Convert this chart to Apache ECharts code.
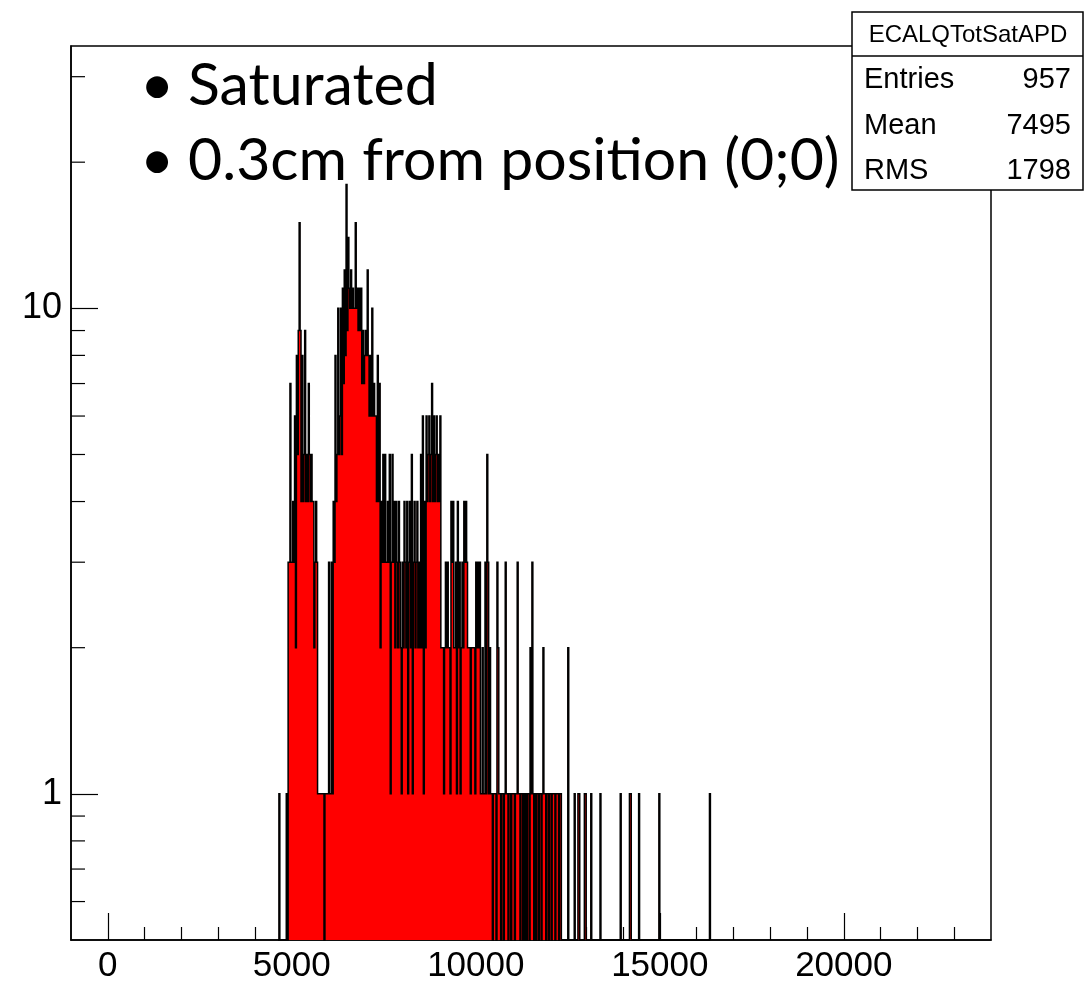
<!DOCTYPE html>
<html><head><meta charset="utf-8">
<script src="https://cdn.jsdelivr.net/npm/echarts@6/dist/echarts.min.js"></script>
<style>html,body{margin:0;padding:0;background:#fff}#c{width:1092px;height:984px}</style>
</head><body><div id="c"></div>
<script>
// ---- histogram definition (ROOT style, 25-unit bins) ----
const histXMin = -1000, histXMax = 24000, binWidth = 25;
const firstBinLow = 4625;
// bin contents, consecutive bins starting at firstBinLow
const counts4625 = [0,1,0,0,0,0,0,0,0,1,0];
const counts4900 = [3,3,7,3,3,4,3,6,2,8,5,9,15,9,4,8,4,5,9,4,5,4,7,5,4,5,4,4,2,3,4,3];
const counts5700 = [1,1,1,1,1,1,1,0,1,1,1,1];
const counts6000 = [3,1,1,3,1,4,3,8,4,5,10,5];
const counts6300 = [6,10,5,11,7,12,8,18,9,14,11,10,12,10,11,10];
const counts6700 = [10,15,10,11,9,11,9,11,7,9,7,8,9,8,12,8];
const counts7100 = [6,8,6,10,6,7,6,6,4,8,4,7];
const counts7400 = [2,4,3,5,3,5,3,3,4,3,5,1,3,5,3,4,2,4,3,2,4,3,2,1];
const counts8000 = [3,2,4,3,2,4,1,3,4,2,5,1,3,4,2,3,4,2,3,2,5,2,6,1];
const counts8600 = [4,2,6,4,5,6,4,5,7,4,6,4,5,6,4,5,4,6,2,2];
const counts9100 = [2,1,2,3,2,3,2,2,1,4,3,4,2,2,3,1,4,2,3,1,2,3,2,4];
const counts9700 = [3,4,3,2,2,2,1,2,2,2,2,1,3,2,3,2,3,1,1,2,1,1,3,1];
const counts10300 = [5,3,1,2,1,1,0,1,1,1,0,3,2,1,1,0,1,1,0,1,3,1,1,0,1,1,0,1];
const counts11000 = [1,1,0,1,1,3,1,1,0,1,1,0,1,0,1,0,1,1,0,2,1,3,1,0,1,0,1,1,0,1,1,0,1,2,1,1,0,1,1,0,1,1,0,1,1,1,0,1];
const counts12200 = [1,1,0,1,1,0];
// isolated bins in the tail: [bin low edge, content]
const tailBins = [[12500,2],[12675,1],[12775,1],[12800,1],[12950,1],[12975,1],[13125,1],[13375,1],[13925,1],[14175,1],[14200,1],[14425,1],[14975,1],[16350,1]];

// ---- axes ----
const xMajorTicks = [0,5000,10000,15000,20000];
const xMinorTicks = [1000,2000,3000,4000,6000,7000,8000,9000,11000,12000,13000,14000,16000,17000,18000,19000,21000,22000,23000];
const yMin = 0.5, yMax = 34.7;
const yMinorTicks = [0.6,0.7,0.8,0.9,2,3,4,5,6,7,8,9,20,30];

// ---- texts ----
const statsTitle = 'ECALQTotSatAPD';
const statsLabels = ['Entries','Mean','RMS'];
const statsValues = ['957','7495','1798'];
const bulletLines = ['Saturated','0.3cm from position (0;0)'];

// build the bin list
const denseCounts = [].concat(counts4625,counts4900,counts5700,counts6000,counts6300,counts6700,counts7100,counts7400,counts8000,counts8600,counts9100,counts9700,counts10300,counts11000,counts12200);
const contentByLow = new Map();
denseCounts.forEach((c,i)=>contentByLow.set(firstBinLow + i*binWidth, c));
tailBins.forEach(([low,c])=>contentByLow.set(low,c));
const lastLow = tailBins[tailBins.length-1][0];
const bins = [];
for (let low = firstBinLow; low <= lastLow; low += binWidth) {
  bins.push([low, low + binWidth, contentByLow.get(low) || 0]);
}

const chart = echarts.init(document.getElementById('c'), null, {renderer:'canvas'});
const FONT = "'Liberation Sans', Arial, Helvetica, sans-serif";
const BIG = "59px Lato, 'Open Sans', sans-serif";
const BLACK = '#000';

function outlinePoints(api) {
  const pts = [api.coord([bins[0][0], yMin])];
  for (const b of bins) {
    const lv = b[2] > 0 ? b[2] : yMin;
    pts.push(api.coord([b[0], lv]));
    pts.push(api.coord([b[1], lv]));
  }
  pts.push(api.coord([bins[bins.length-1][1], yMin]));
  return pts;
}

const option = {
  animation: false,
  backgroundColor: '#fff',
  grid: {left:71, right:101, top:46, bottom:43, show:true, borderColor:BLACK, borderWidth:1.5, backgroundColor:'transparent'},
  xAxis: [
    {type:'value', min:histXMin, max:histXMax, position:'bottom',
     axisLine:{show:true, onZero:false, lineStyle:{color:BLACK, width:1.5}},
     axisTick:{show:true, inside:true, length:27, customValues:xMajorTicks, lineStyle:{color:BLACK, width:1.2}},
     axisLabel:{show:true, customValues:xMajorTicks, color:BLACK, fontFamily:FONT, fontSize:35, margin:9,
                formatter: v => String(v)},
     splitLine:{show:false}},
    {type:'value', min:histXMin, max:histXMax, position:'bottom',
     axisLine:{show:false, onZero:false},
     axisTick:{show:true, inside:true, length:13, customValues:xMinorTicks, lineStyle:{color:BLACK, width:1.2}},
     axisLabel:{show:false}, splitLine:{show:false}}
  ],
  yAxis: [
    {type:'log', logBase:10, min:yMin, max:yMax,
     axisLine:{show:true, onZero:false, lineStyle:{color:BLACK, width:1.5}},
     axisTick:{show:true, inside:true, length:27, lineStyle:{color:BLACK, width:1.2}},
     axisLabel:{show:true, color:BLACK, fontFamily:FONT, fontSize:36, margin:9, showMinLabel:false, showMaxLabel:false,
                formatter: v => String(v)},
     minorTick:{show:false}, splitLine:{show:false}}
  ],
  series: [
    { // red fill (one polygon following the bin contour)
      type:'custom', coordinateSystem:'cartesian2d', xAxisIndex:0, yAxisIndex:0, z:2,
      data: [[firstBinLow, 1]], encode:{x:0},
      renderItem: function(params, api) {
        return {type:'polygon', shape:{points:outlinePoints(api)}, style:{fill:'#ff0000', stroke:null}};
      }
    },
    { // black outline
      type:'custom', coordinateSystem:'cartesian2d', xAxisIndex:0, yAxisIndex:0, z:3,
      data: [[firstBinLow, 1]], encode:{x:0},
      renderItem: function(params, api) {
        return {type:'polyline', shape:{points:outlinePoints(api)}, style:{stroke:BLACK, lineWidth:1.5, fill:null, lineJoin:'miter'}};
      }
    },
    { // y minor ticks of the log axis
      type:'custom', coordinateSystem:'cartesian2d', xAxisIndex:0, yAxisIndex:0, z:4,
      data: yMinorTicks.map(v=>[histXMin, v]), encode:{x:0},
      renderItem: function(params, api) {
        const p = api.coord([api.value(0), api.value(1)]);
        return {type:'line', shape:{x1:p[0], y1:p[1], x2:p[0]+14, y2:p[1]}, style:{stroke:BLACK, lineWidth:1.2}};
      }
    }
  ],
  graphic: [
    // overlay bullet text
    {type:'text', z:50, left:140, top:56, style:{text:'•', font:BIG, fill:BLACK}},
    {type:'text', z:50, left:188, top:56, style:{text:bulletLines[0], font:BIG, fill:BLACK}},
    {type:'text', z:50, left:140, top:131, style:{text:'•', font:BIG, fill:BLACK}},
    {type:'text', z:50, left:188, top:131, style:{text:bulletLines[1], font:BIG, fill:BLACK}},
    // stats box
    {type:'rect', z:60, shape:{x:852, y:12, width:231, height:178}, style:{fill:'#fff', stroke:BLACK, lineWidth:1.5}},
    {type:'line', z:61, shape:{x1:852, y1:56, x2:1083, y2:56}, style:{stroke:BLACK, lineWidth:1.5}},
    {type:'text', z:62, x:968, y:35, style:{text:statsTitle, font:"24px "+FONT, fill:BLACK, align:'center', verticalAlign:'middle'}},
    ...statsLabels.map((t,i)=>({type:'text', z:62, x:864, y:80+45.5*i, style:{text:t, font:"29px "+FONT, fill:BLACK, align:'left', verticalAlign:'middle'}})),
    ...statsValues.map((t,i)=>({type:'text', z:62, x:1071, y:80+45.5*i, style:{text:t, font:"29px "+FONT, fill:BLACK, align:'right', verticalAlign:'middle'}}))
  ]
};
chart.setOption(option);
</script>
</body></html>
